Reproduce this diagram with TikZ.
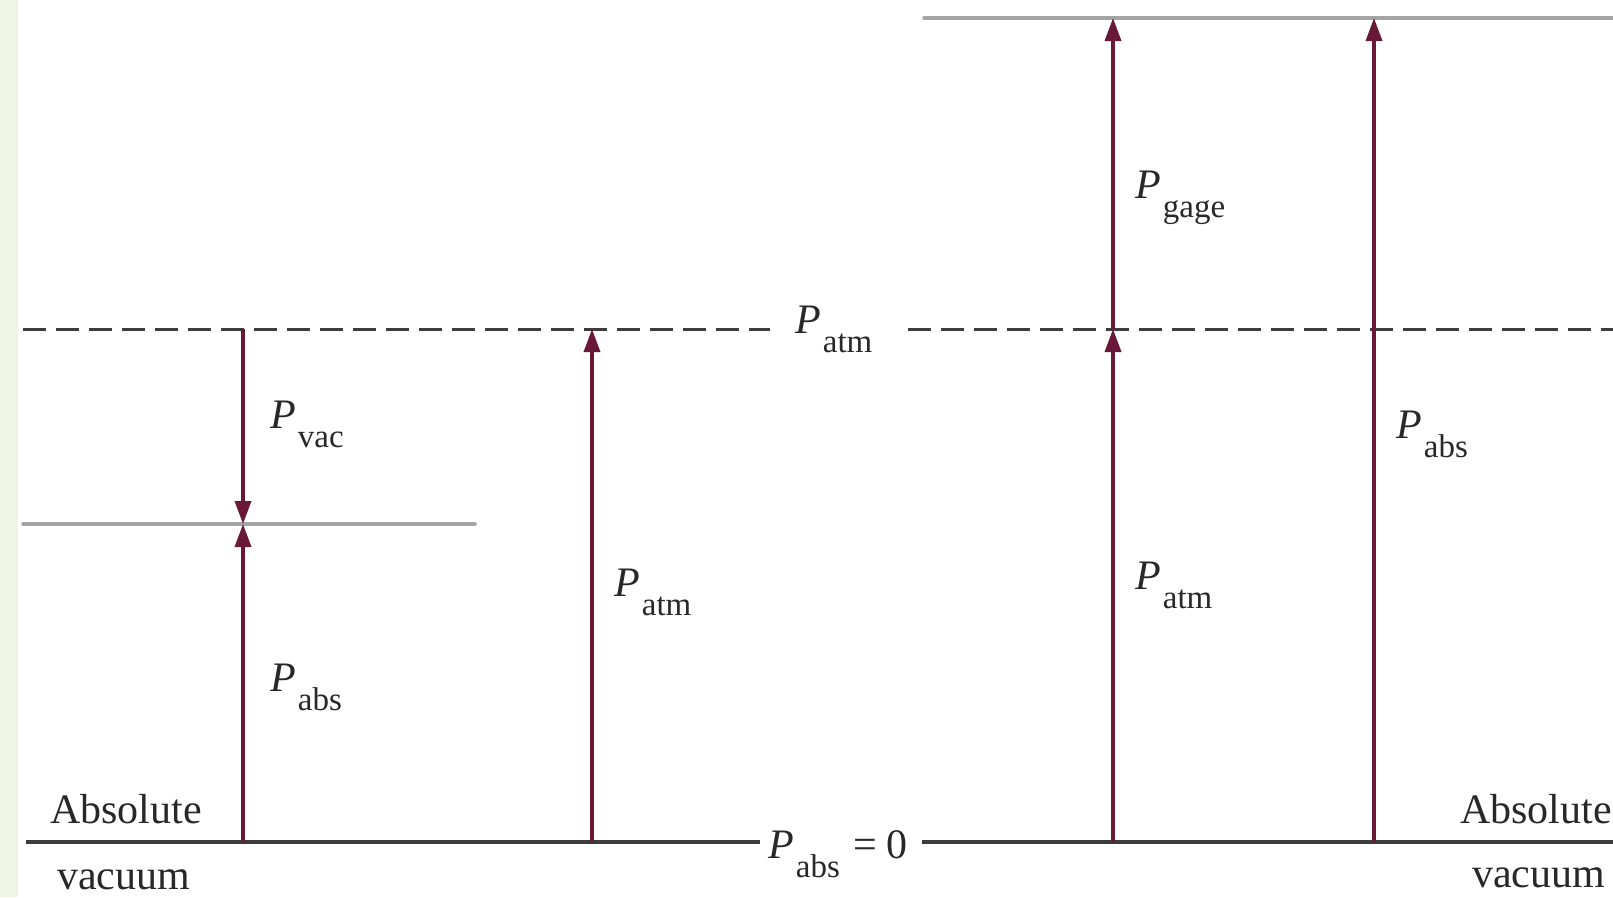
\documentclass[tikz,border=0pt]{standalone}
\usepackage{fontspec}
\setmainfont{Liberation Serif}
\usetikzlibrary{arrows.meta}
\definecolor{arrowc}{RGB}{105,25,55}
\definecolor{linegray}{RGB}{165,165,165}
\definecolor{darkline}{RGB}{60,60,60}
\definecolor{txt}{RGB}{40,40,40}
\definecolor{strip}{RGB}{240,244,228}
\newcommand\lab{\fontsize{42}{48}\selectfont}
\newcommand\Psub[1]{\textit{P}\kern2pt\raisebox{-19pt}{\fontsize{33}{38}\selectfont #1}}
\tikzset{
  lbl/.style={font=\lab, text=txt, inner sep=0pt, anchor=base west},
  gapped/.style={font=\lab, text=txt, inner ysep=0pt, anchor=base west},
  thinline/.style={draw=linegray, line width=3.5pt, line cap=round},
  baseline0/.style={draw=darkline, line width=4.5pt},
  dashline/.style={draw=darkline, line width=3pt, dash pattern=on 23pt off 10pt},
  parrow/.style={draw=arrowc, line width=3.5pt, -{Triangle[length=23pt,width=16pt]}},
}
\begin{document}
\begin{tikzpicture}[x=1pt,y=-1pt]
\useasboundingbox (0,0) rectangle (1613,897);
\fill[strip] (0,0) rectangle (18,897);
% reference lines
\coordinate (topL) at (924,18);
\coordinate (topR) at (1613,18);
\coordinate (dashL) at (23,329);
\coordinate (dashR) at (1613,329);
\coordinate (midL) at (23,524);
\coordinate (midR) at (475,524);
\coordinate (botL) at (26,842);
\coordinate (botR) at (1613,842);
\node[gapped, inner xsep=25pt] (patm) at (770,333) {\Psub{atm}\kern10pt};
\node[gapped, inner xsep=8pt] (pzero) at (760,858) {\Psub{abs}\kern14pt=\kern9pt0\kern6pt};
\draw[thinline] (topL) -- (topR);
\draw[thinline] (midL) -- (midR);
\draw[dashline] (dashL) -- (patm.west |- dashL);
\draw[dashline] (patm.east |- dashR) -- (dashR);
\draw[baseline0] (botL) -- (pzero.west |- botL);
\draw[baseline0] (pzero.east |- botR) -- (botR);
% arrow endpoints
\coordinate (a1top) at (243,329);
\coordinate (a1mid) at (243,524);
\coordinate (a1bot) at (243,842);
\coordinate (a2bot) at (592,842);
\coordinate (a2top) at (592,329);
\coordinate (a3bot) at (1113,842);
\coordinate (a3mid) at (1113,329);
\coordinate (a3top) at (1113,18);
\coordinate (a4bot) at (1374,842);
\coordinate (a4top) at (1374,18);
\draw[parrow] (a1top) -- (a1mid);
\draw[parrow] (a1bot) -- (a1mid);
\draw[parrow] (a2bot) -- (a2top);
\draw[parrow] (a3bot) -- (a3mid);
\draw[parrow] (a3mid) -- (a3top);
\draw[parrow] (a4bot) -- (a4top);
% labels
\node[lbl] (pvac) at (270,428) {\Psub{vac}};
\node[lbl] (pabsL) at (270,691) {\Psub{abs}};
\node[lbl] (patmM) at (614,596) {\Psub{atm}};
\node[lbl] (pgage) at (1135,198) {\Psub{gage}};
\node[lbl] (patmR) at (1135,589) {\Psub{atm}};
\node[lbl] (pabsR) at (1396,438) {\Psub{abs}};
\node[lbl] (absL) at (50,823) {Absolute};
\node[lbl] (vacL) at (57,889) {vacuum};
\node[lbl] (absR) at (1460,823) {Absolute};
\node[lbl] (vacR) at (1472,887) {vacuum};
\end{tikzpicture}
\end{document}
